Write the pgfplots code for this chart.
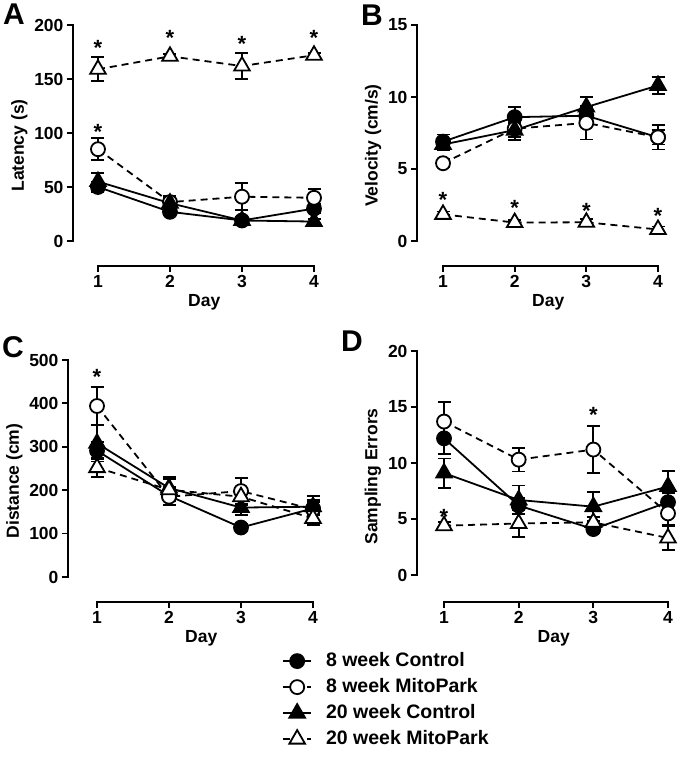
\documentclass[border=0pt]{standalone}
\usepackage{fontspec}
\setmainfont{Liberation Sans}
\usepackage{pgfplots}
\pgfplotsset{compat=1.18}

\newcommand{\tf}{\fontsize{17.5}{20}\selectfont\bfseries}
\tikzset{astx/.style={font=\fontsize{22}{22}\selectfont\bfseries, anchor=base, inner sep=0pt}}

\pgfplotsset{
  prism/.style={
    scale only axis, anchor=south west, clip=false,
    axis x line*=bottom, axis y line*=left,
    axis line style={draw=none},
    tick align=outside, major tick length=6pt,
    every tick/.style={draw=black, line width=1.8pt},
    xtick={1,2,3,4}, xmax=4.3,
    /pgf/number format/assume math mode=true,
    tick label style={font=\tf},
    label style={font=\tf},
    xlabel={Day},
  },
  grp/.style={black, line width=1.8pt,
    error bars/y dir=both, error bars/y explicit,
    error bars/error bar style={solid, line width=1.8pt},
    error bars/error mark options={solid, line width=1.8pt, mark size=6.5pt, rotate=90}},
  ctl8/.style={grp, solid, mark=*, mark size=7pt, mark options={solid, fill=black}},
  mito8/.style={grp, dash pattern=on 7pt off 5pt, mark=*, mark size=7pt, mark options={solid, fill=white}},
  ctl20/.style={grp, solid, mark=triangle*, mark size=9pt, mark options={solid, fill=black}},
  mito20/.style={grp, dash pattern=on 7pt off 5pt, mark=triangle*, mark size=9pt, mark options={solid, fill=white}},
  /pgfplots/legend image code/.code={\draw[mark repeat=2,mark phase=2] plot coordinates {(0pt,0pt) (14pt,0pt) (28pt,0pt)};},
}

\begin{document}
\begin{tikzpicture}
\useasboundingbox (0,0) rectangle (682pt,761pt);

% A: latency
\begin{axis}[prism, at={(73pt,495pt)}, width=262.6pt, height=241pt,
  xmin=0.653, ymin=-23.15, ymax=200, ytick={0,50,100,150,200},
  ylabel={Latency (s)}]
\addplot[ctl8] coordinates {(1,50) +- (0,5) (2,27) +- (0,3) (3,19) +- (0,2) (4,30) +- (0,4)};
\addplot[mito8] coordinates {(1,85) +- (0,10) (2,36) +- (0,6) (3,41) +- (0,12.5) (4,40) +- (0,8)};
\addplot[ctl20] coordinates {(1,55) +- (0,8) (2,35) +- (0,6) (3,19) +- (0,3) (4,18) +- (0,2)};
\addplot[mito20] coordinates {(1,159) +- (0,11) (2,171) +- (0,2) (3,162) +- (0,12) (4,172) +- (0,2)};
\draw[line width=1.8pt, line cap=rect] (axis cs:1,-23.15) -- (axis cs:4,-23.15);
\draw[line width=1.8pt, line cap=rect] (axis cs:0.653,0) -- (axis cs:0.653,200);
\node[astx] at (axis cs:1,172) {*};
\node[astx] at (axis cs:2,181) {*};
\node[astx] at (axis cs:3,175) {*};
\node[astx] at (axis cs:4,181) {*};
\node[astx] at (axis cs:1,94) {*};
\end{axis}

% B: velocity
\begin{axis}[prism, at={(417pt,495pt)}, width=262.5pt, height=241pt,
  xmin=0.637, ymin=-1.736, ymax=15, ytick={0,5,10,15},
  ylabel={Velocity (cm/s)}]
\addplot[ctl8] coordinates {(1,6.9) +- (0,0.5) (2,8.6) +- (0,0.7) (3,8.7) +- (0,0.6) (4,7.2) +- (0,0.5)};
\addplot[mito8] coordinates {(1,5.4) +- (0,0.3) (2,7.8) +- (0,0.8) (3,8.2) +- (0,1.15) (4,7.2) +- (0,0.85)};
\addplot[ctl20] coordinates {(1,6.7) +- (0,0.4) (2,7.7) +- (0,0.5) (3,9.3) +- (0,0.7) (4,10.8) +- (0,0.6)};
\addplot[mito20] coordinates {(1,1.85) +- (0,0.2) (2,1.28) +- (0,0.2) (3,1.3) +- (0,0.2) (4,0.8) +- (0,0.2)};
\draw[line width=1.8pt, line cap=rect] (axis cs:1,-1.736) -- (axis cs:4,-1.736);
\draw[line width=1.8pt, line cap=rect] (axis cs:0.637,0) -- (axis cs:0.637,15);
\node[astx] at (axis cs:1,2.35) {*};
\node[astx] at (axis cs:2,1.8) {*};
\node[astx] at (axis cs:3,1.55) {*};
\node[astx] at (axis cs:4,1.2) {*};
\end{axis}

% C: distance
\begin{axis}[prism, at={(68pt,159pt)}, width=266.6pt, height=242pt,
  xmin=0.597, ymin=-57.6, ymax=500, ytick={0,100,200,300,400,500},
  ylabel={Distance (cm)},
  legend style={at={(0.803,-0.198)}, anchor=north west, draw=none, fill=none,
    font=\fontsize{19.5}{22}\selectfont\bfseries, inner sep=0pt, row sep=4pt,
    nodes={inner sep=2pt, text height=14pt, text depth=4pt},
    column sep=12pt},
  legend cell align=left]
\addplot[ctl8] coordinates {(1,291) +- (0,20) (2,187) +- (0,20) (3,114) +- (0,8) (4,158) +- (0,15)};
\addplot[mito8] coordinates {(1,394) +- (0,44) (2,185) +- (0,20) (3,198) +- (0,30) (4,156) +- (0,30)};
\addplot[ctl20] coordinates {(1,308) +- (0,42) (2,205) +- (0,25) (3,160) +- (0,18) (4,162) +- (0,15)};
\addplot[mito20] coordinates {(1,252) +- (0,22) (2,201) +- (0,25) (3,185) +- (0,20) (4,135) +- (0,15)};
\legend{8 week Control, 8 week MitoPark, 20 week Control, 20 week MitoPark}
\draw[line width=1.8pt, line cap=rect] (axis cs:1,-57.6) -- (axis cs:4,-57.6);
\draw[line width=1.8pt, line cap=rect] (axis cs:0.597,0) -- (axis cs:0.597,500);
\node[astx] at (axis cs:1,444) {*};
\end{axis}

% D: sampling errors
\begin{axis}[prism, at={(417pt,159pt)}, width=273.4pt, height=251pt,
  xmin=0.638, ymin=-2.41, ymax=20, ytick={0,5,10,15,20},
  ylabel={Sampling Errors}]
\addplot[ctl8] coordinates {(1,12.2) +- (0,1.4) (2,6.2) +- (0,0.7) (3,4.1) +- (0,0.4) (4,6.5) +- (0,0.8)};
\addplot[mito8] coordinates {(1,13.7) +- (0,1.75) (2,10.3) +- (0,1.05) (3,11.2) +- (0,2.1) (4,5.5) +- (0,1.0)};
\addplot[ctl20] coordinates {(1,9.1) +- (0,1.3) (2,6.7) +- (0,1.3) (3,6.1) +- (0,1.3) (4,7.9) +- (0,1.4)};
\addplot[mito20] coordinates {(1,4.4) +- (0,0.3) (2,4.6) +- (0,1.2) (3,4.7) +- (0,0.5) (4,3.3) +- (0,1.1)};
\draw[line width=1.8pt, line cap=rect] (axis cs:1,-2.41) -- (axis cs:4,-2.41);
\draw[line width=1.8pt, line cap=rect] (axis cs:0.638,0) -- (axis cs:0.638,20);
\node[astx] at (axis cs:1,4.55) {*};
\node[astx] at (axis cs:3,13.6) {*};
\end{axis}

\begin{scope}[every node/.style={font=\fontsize{30}{30}\selectfont\bfseries, inner sep=0pt}]
\node at (14pt,747pt) {A};
\node at (372pt,746pt) {B};
\node at (13pt,414pt) {C};
\node at (352pt,420pt) {D};
\end{scope}
\end{tikzpicture}
\end{document}
